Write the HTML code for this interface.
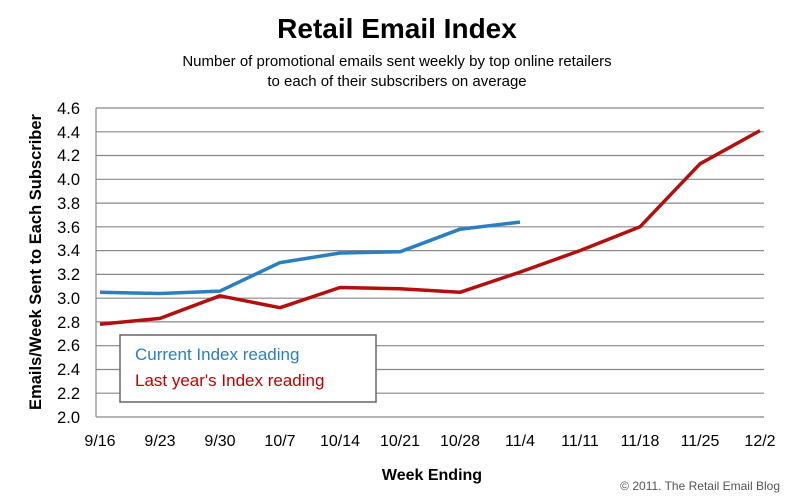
<!DOCTYPE html>
<html><head><style>body{margin:0;background:#fff}svg{display:block}</style></head><body>
<svg width="789" height="497" xmlns="http://www.w3.org/2000/svg" font-family="Liberation Sans, Arial, sans-serif">
<rect width="789" height="497" fill="#fff"/>
<text x="397" y="38" font-size="28" font-weight="bold" text-anchor="middle">Retail Email Index</text>
<text x="397" y="66" font-size="15" text-anchor="middle">Number of promotional emails sent weekly by top online retailers</text>
<text x="397" y="86" font-size="15" text-anchor="middle">to each of their subscribers on average</text>
<g stroke="#888" stroke-width="1.2">
<line x1="96" y1="108" x2="764" y2="108"/><line x1="96" y1="131.8" x2="764" y2="131.8"/><line x1="96" y1="155.5" x2="764" y2="155.5"/><line x1="96" y1="179.3" x2="764" y2="179.3"/><line x1="96" y1="203.1" x2="764" y2="203.1"/><line x1="96" y1="226.8" x2="764" y2="226.8"/><line x1="96" y1="250.6" x2="764" y2="250.6"/><line x1="96" y1="274.4" x2="764" y2="274.4"/><line x1="96" y1="298.2" x2="764" y2="298.2"/><line x1="96" y1="321.9" x2="764" y2="321.9"/><line x1="96" y1="345.7" x2="764" y2="345.7"/><line x1="96" y1="369.5" x2="764" y2="369.5"/><line x1="96" y1="393.2" x2="764" y2="393.2"/><line x1="96" y1="417" x2="764" y2="417"/>
<line x1="96" y1="108" x2="96" y2="417"/>
</g>
<g font-size="16.5" text-anchor="end">
<text x="80" y="114">4.6</text><text x="80" y="138">4.4</text><text x="80" y="161">4.2</text><text x="80" y="185">4.0</text><text x="80" y="209">3.8</text><text x="80" y="233">3.6</text><text x="80" y="256">3.4</text><text x="80" y="280">3.2</text><text x="80" y="304">3.0</text><text x="80" y="328">2.8</text><text x="80" y="351">2.6</text><text x="80" y="375">2.4</text><text x="80" y="399">2.2</text><text x="80" y="423">2.0</text>
</g>
<g font-size="16" text-anchor="middle">
<text x="100" y="446">9/16</text><text x="160" y="446">9/23</text><text x="220" y="446">9/30</text><text x="280" y="446">10/7</text><text x="340" y="446">10/14</text><text x="400" y="446">10/21</text><text x="460" y="446">10/28</text><text x="520" y="446">11/4</text><text x="580" y="446">11/11</text><text x="640" y="446">11/18</text><text x="700" y="446">11/25</text><text x="760" y="446">12/2</text>
</g>
<text transform="translate(41,262) rotate(-90)" font-size="16.5" font-weight="bold" text-anchor="middle">Emails/Week Sent to Each Subscriber</text>
<text x="432" y="480" font-size="16" font-weight="bold" text-anchor="middle">Week Ending</text>
<text x="780" y="490" font-size="12" fill="#555" text-anchor="end">© 2011. The Retail Email Blog</text>
<polyline fill="none" stroke="#b30f0f" stroke-width="3.5" stroke-linejoin="round" points="100,324.3 160,318.4 220,295.8 280,307.7 340,287.5 400,288.7 460,292.3 520,272.1 580,250.6 640,226.8 700,163.8 760,130.6"/>
<polyline fill="none" stroke="#2a7fc1" stroke-width="3.5" stroke-linejoin="round" points="100,292.3 160,293.5 220,291.1 280,262.6 340,253.0 400,251.8 460,229.2 520,222.1"/>
<rect x="120" y="335" width="256" height="67" fill="#fff" stroke="#666" stroke-width="1.5"/>
<text x="135" y="360" font-size="17" fill="#2a7fc1">Current Index reading</text>
<text x="135" y="386" font-size="17" fill="#c00000">Last year's Index reading</text>
</svg>
</body></html>
